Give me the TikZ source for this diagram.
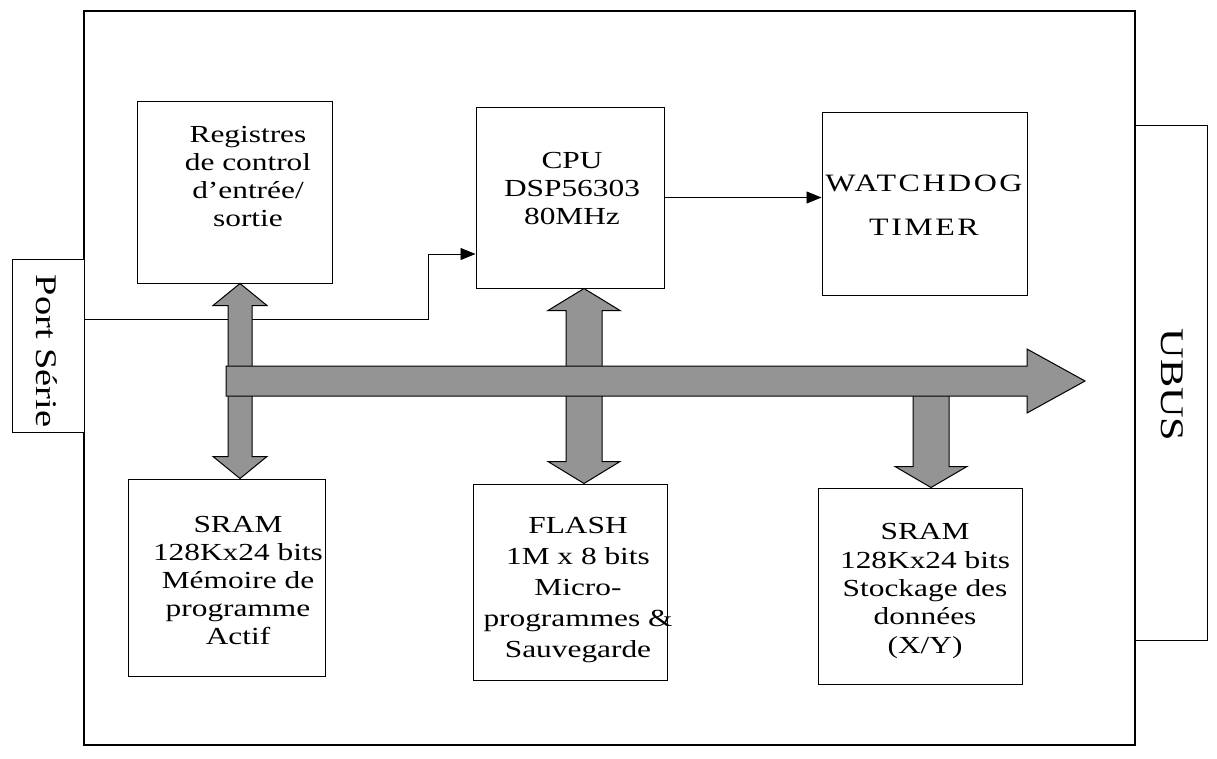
\documentclass[tikz,border=0pt]{standalone}
\usepackage{fontspec}
\setmainfont{Liberation Serif}[FakeStretch=1.28]
\usetikzlibrary{arrows.meta,calc}
\begin{document}
\begin{tikzpicture}[x=1pt,y=-1pt,
  box/.style={draw=black,line width=1pt,fill=white,inner sep=0pt},
  lbl/.style={align=center,inner sep=0pt,font=\fontsize{24.5}{28}\selectfont},
  vlbl/.style={rotate=-90,inner sep=0pt},
  sig/.style={draw=black,line width=0.9pt,-{Triangle[length=15pt,width=12pt]}},
  fat/.style={draw=black,line width=1pt,fill=black!42,line join=miter}]
\useasboundingbox (0,0) rectangle (1217,758);
% board
\node[box,line width=1.1pt,minimum width=1051,minimum height=734] (board) at (609.5,378) {};
\node[box,minimum width=72,minimum height=173] (port) at (48,345.5) {};
\node[box,minimum width=72,minimum height=515] (ubus) at (1171,382.5) {};
\node[vlbl,font=\fontsize{30}{34}\selectfont] (portt) at (47,351) {Port\ Série};
\node[vlbl,font=\fontsize{33}{36}\selectfont] (ubust) at (1172,385) {UBUS};
% boxes
\node[box,minimum width=195,minimum height=182] (reg) at (234.5,192) {};
\node[box,minimum width=188,minimum height=181] (cpu) at (570,197.5) {};
\node[box,minimum width=205,minimum height=183] (wd) at (924.5,203.5) {};
\node[box,minimum width=197,minimum height=197] (sram1) at (226.5,577.5) {};
\node[box,minimum width=194,minimum height=196] (flash) at (570,582) {};
\node[box,minimum width=204,minimum height=196] (sram2) at (920,586) {};
% labels
\node[lbl] (regt) at (248,177) {Registres\\de control\\d’entrée/\\sortie};
\node[lbl] (cput) at (572,189) {CPU\\DSP56303\\80MHz};
\node[lbl,font=\fontsize{25}{44}\selectfont] (wdt) at (924,205) {\addfontfeature{LetterSpace=10}WATCHDOG\\\addfontfeature{LetterSpace=10}TIMER};
\node[lbl] (sram1t) at (238,580) {SRAM\\128Kx24 bits\\Mémoire de\\programme\\Actif};
\node[lbl,font=\fontsize{24.5}{31}\selectfont] (flasht) at (578,590) {FLASH\\1M x 8 bits\\Micro-\\programmes \&\\Sauvegarde};
\node[lbl,font=\fontsize{24.5}{28.3}\selectfont] (sram2t) at (925,591) {SRAM\\128Kx24 bits\\Stockage des\\données\\(X/Y)};
% signal connectors
\coordinate (ps) at ($(port.north east)!0.35!(port.south east)$);
\coordinate (bend) at (428,254);
\draw[sig] (ps) -| (bend) -- (bend -| cpu.west);
\draw[sig] (cpu.east) -- (cpu.east -| wd.west);
% fat vertical arrows
\coordinate (colA) at (240,0);
\coordinate (colB) at (584,0);
\coordinate (colC) at (931,0);
\coordinate (at) at (reg.south -| colA);
\coordinate (ab) at (sram1.north -| colA);
\path[fat] (at) -- ($(at)+(27,22)$) -- ($(at)+(12,22)$) -- ($(ab)+(12,-22)$) -- ($(ab)+(27,-22)$) -- (ab)
  -- ($(ab)+(-27,-22)$) -- ($(ab)+(-12,-22)$) -- ($(at)+(-12,22)$) -- ($(at)+(-27,22)$) -- cycle;
\coordinate (bt) at (cpu.south -| colB);
\coordinate (bb) at (flash.north -| colB);
\path[fat] (bt) -- ($(bt)+(36,22)$) -- ($(bt)+(18,22)$) -- ($(bb)+(18,-22)$) -- ($(bb)+(36,-22)$) -- (bb)
  -- ($(bb)+(-36,-22)$) -- ($(bb)+(-18,-22)$) -- ($(bt)+(-18,22)$) -- ($(bt)+(-36,22)$) -- cycle;
\coordinate (ct) at ($(colC)+(0,385)$);
\coordinate (cb) at (sram2.north -| colC);
\path[fat] ($(ct)+(-18,0)$) -- ($(cb)+(-18,-21)$) -- ($(cb)+(-36,-21)$) -- (cb)
  -- ($(cb)+(36,-21)$) -- ($(cb)+(18,-21)$) -- ($(ct)+(18,0)$) -- cycle;
% bus
\coordinate (bs) at (226,381);
\coordinate (be) at (1085,381);
\path[fat] ($(bs)+(0,-15)$) -- ($(be)+(-58,-15)$) -- ($(be)+(-58,-32)$) -- (be) -- ($(be)+(-58,32)$)
  -- ($(be)+(-58,15)$) -- ($(bs)+(0,15)$) -- cycle;
\end{tikzpicture}
\end{document}
